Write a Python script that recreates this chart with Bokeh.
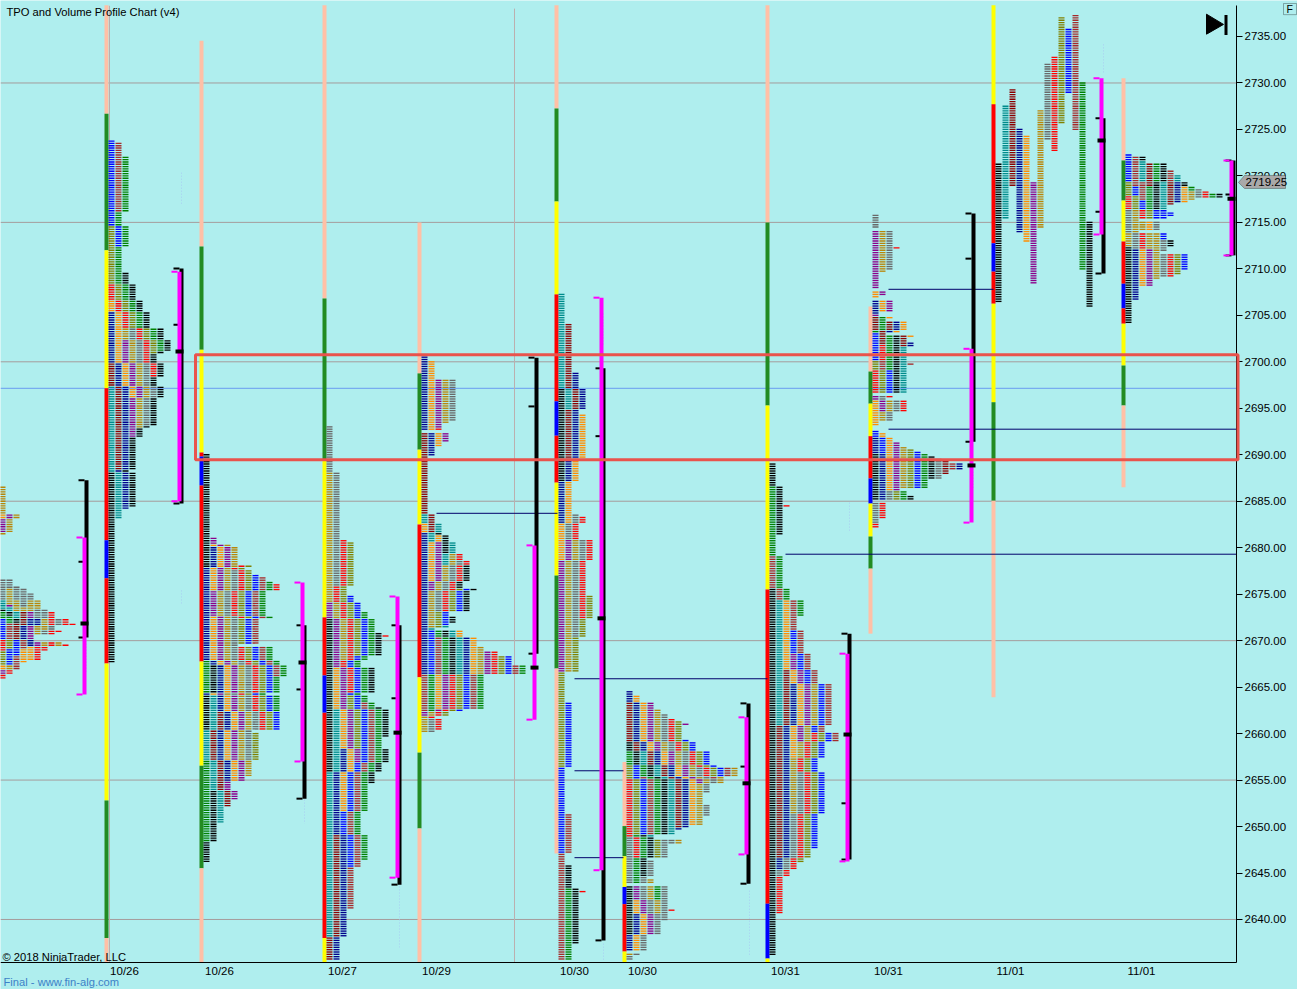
from bokeh.plotting import figure
from bokeh.models import (Range1d, FixedTicker, Label, BoxAnnotation, PolyAnnotation,
                          ColumnDataSource, NumeralTickFormatter)
from bokeh.embed import file_html
from bokeh.resources import INLINE

# ---- period colours (letter colours of the TPO chart)
palette = ["#000000", "#008B8B", "#8B0000", "#00008B", "#FF8C00", "#8B008B", "#B8860B",
           "#696969", "#FF0000", "#808000", "#0000FF", "#A52A2A", "#008000"]
K, T, M, N, O, U, D, A, R, L, B, W, G = range(13)

# ---- each session: periods in time order as (colour, high, low)
session0 = [(D,2686.6,2683.6),(O,2683.6,2682.95),(U,2682.95,2681.5),(D,2681.5,2681.2),(U,2683.6,2682.95),(D,2682.95,2681.5),(D,2683.6,2682.95),
 (A,2676.6,2674.15),(T,2674.15,2673.25),(K,2673.25,2672.9),(G,2672.9,2672.35),(B,2672.35,2670),(R,2670,2668.75),(L,2668.75,2667.3),(O,2667.3,2666.8),(U,2666.8,2666.35),(R,2666.35,2665.7),
 (A,2676.4,2675.4),(D,2675.4,2673.8),(U,2673.8,2673.45),(T,2673.45,2672.9),(K,2672.9,2672.5),(G,2672.5,2671.8),(W,2671.8,2670),(L,2670,2669.1),(B,2669.1,2667.3),(D,2667.3,2666.8),(R,2666.8,2666.25),
 (A,2675.8,2674.3),(D,2674.3,2672.9),(T,2672.9,2672.15),(K,2672.15,2671.65),(M,2671.65,2670),(B,2670,2668.2),(W,2668.2,2666.8),
 (A,2675.4,2673.6),(D,2673.6,2672.9),(M,2672.9,2671.45),(N,2671.45,2670),(W,2670,2669.1),(O,2669.1,2667.45),
 (A,2675.05,2674.3),(D,2674.3,2672.9),(U,2672.9,2672.35),(N,2672.35,2671.45),(U,2671.45,2670),(N,2670,2669.3),(O,2669.3,2667.7),
 (D,2674.3,2673.35),(A,2673.3,2672.35),(N,2672.35,2671.45),(D,2671.45,2670.4),(U,2669.85,2669.3),(R,2669.3,2667.7),
 (A,2673.3,2672.35),(D,2672.35,2671.1),(A,2671.1,2670.4),(D,2669.85,2669.3),(R,2669.3,2668.65),
 (R,2672.9,2671.45),(A,2671.45,2671.1),(R,2671.1,2670.4),(R,2669.85,2669.3),
 (A,2672.35,2671.45),(R,2671.1,2670.85),(D,2669.85,2669.3),
 (R,2672.35,2671.45),(R,2669.5,2669.5),(R,2671.75,2671.75)]
session1 = [(K,2688,2667.5),(T,2697.25,2683),(M,2699.75,2688.25),(N,2705.25,2684),(O,2706.5,2696),
 (U,2702.25,2691.75),(D,2703.5,2692.75),(A,2703.5,2693),(R,2708.25,2698.25),(L,2714.5,2700.75),
 (B,2723.75,2712.25),(W,2723.5,2716),(G,2722,2701),(K,2709.5,2684.25)]
session2 = [(K,2690.1,2677.65),(G,2656.9,2648.3),(K,2653.75,2646),(G,2667.75,2664.25),(K,2664.1,2660.15),
 (K,2667.25,2664.25),(T,2664.1,2650.25),(M,2662.25,2651.9),(N,2680,2654.75),(O,2680.35,2675.2),
 (O,2672.5,2654.75),(U,2680.9,2652.8),(D,2680.15,2655.3),(A,2677.4,2657),(L,2660,2657.1),
 (R,2677.9,2672.35),(L,2677.9,2669.5),(B,2677.1,2669.5),(W,2676.85,2669.5),(G,2676.35,2672.35),(R,2676.1,2675.2),
 (R,2669.25,2660.15),(L,2669.25,2660.15),(B,2669.25,2660.15),(W,2669.25,2665.9),(G,2669.25,2662.25)]
session3 = [(K,2672.35,2655.7),(T,2662.45,2637.95),(M,2649,2635.5),(N,2658.15,2635.5),(O,2666.95,2651.4),
 (U,2674.05,2656.85),(D,2688.05,2667.85),(A,2692.9,2675.75),(R,2680.8,2664.15),(L,2680.6,2668.25),
 (L,2663.95,2658.15),(B,2674.8,2645.6),(W,2663.2,2640.95),(G,2672.95,2646.35),(K,2670.85,2668.25),
 (K,2666.95,2664.15),(K,2662.85,2659.45),(K,2658.15,2654.6),(R,2670.5,2670.5)]
session4 = [(N,2700.55,2692.45),(T,2683.5,2682.4),(O,2682.4,2681.5),(N,2681.5,2666.25),(M,2692.35,2681.5),
 (N,2692.35,2689.75),(O,2700.1,2692.6),(O,2692.35,2690.8),(T,2682.4,2680.6),(O,2681.3,2676.3),
 (U,2698,2692.8),(U,2692.35,2691.35),(U,2680.6,2675.2),(K,2681.5,2679.15),(T,2680.6,2678.05),
 (D,2697.9,2693.15),(D,2679.15,2671.25),(A,2697.9,2693.5),(A,2678.6,2673.05),(R,2692.8,2692.8),
 (R,2679.15,2672.9),(L,2675.4,2671.25),(B,2675.4,2671.6),(K,2678.05,2673.05),(K,2672.5,2671.8),
 (B,2670.9,2666.25),(W,2670.2,2662.3),(G,2671.1,2662.15),(K,2671.1,2666.25),(T,2671.6,2666.25),
 (N,2670.2,2666.25),(O,2671.1,2662.5),(D,2669.3,2666.25),(U,2668.75,2661.75),(D,2662.15,2660),
 (A,2661.4,2660),(R,2668.75,2660.35),(L,2668.2,2661.75),(B,2668.2,2662.3),(W,2667.3,2662.5),(G,2667.3,2662.5)]
session5 = [(K,2697.1,2686.95),(T,2707.2,2694.65),(M,2704.1,2689.5),(N,2698.85,2682.5),(O,2694.35,2678.55),
 (U,2680.65,2666.4),(D,2680.65,2666.4),(A,2683.55,2670.35),(R,2683.3,2672.25),(L,2674.8,2656.15),
 (B,2663.15,2647),(W,2651.15,2635.6),(G,2643.3,2635.6),(K,2645.85,2637.2),(R,2643.05,2643.05)]
session6 = [(A,2648.65,2643.75),(R,2654.95,2646.5),(L,2656.6,2648.9),(B,2656.6,2648.9),(W,2655.2,2648.9),
 (G,2658,2643.75),(K,2658.95,2644.45),(T,2658,2648.65),(M,2663.15,2649.85),(N,2664.4,2649.45),
 (O,2664.1,2650.05),(U,2663.15,2654.5),(D,2662.55,2650.05),(A,2662.05,2656.6),(A,2656.35,2653.55),
 (A,2652.15,2651),(R,2661.6,2655.2),(L,2661.35,2655.2),(U,2661,2661),(B,2659.15,2655.2),
 (W,2656.35,2654.95),(D,2656.35,2654.5),(L,2648.5,2646.5),(A,2648.5,2646.5),(A,2648.5,2648),(D,2648.5,2648),
 (A,2646.35,2643.75),(D,2644.35,2643.75),(K,2643.4,2638.15),(N,2640.5,2636.5),(O,2641.9,2636.5),
 (U,2643.4,2638.15),(A,2643.4,2636.5),(D,2643.4,2640.6),(G,2643.4,2641.9),(A,2643.4,2639.8),(R,2641,2641),
 (D,2636.35,2636.05),(A,2636.35,2635.45)]
session7 = [(K,2675.4,2635.9),(T,2674.3,2660.7),(M,2666.8,2646.55),(N,2665.15,2645.3),(O,2674.3,2657.3),
 (U,2668.4,2659.1),(D,2665.15,2651.35),(A,2655.85,2644.4),(R,2660,2640.6),(L,2660,2646.05),
 (B,2671.1,2647.6),(W,2679.05,2659.1),(G,2686.6,2672.55),(K,2689.1,2681.2),(R,2684.55,2684.55)]
session8 = [(A,2715.85,2714.3),(U,2714.1,2707.65),(D,2714.1,2709.45),(A,2714.1,2709.65),(R,2712.25,2712.25),
 (O,2707.55,2706.75),(U,2707.55,2706.95),(N,2706.6,2705),(O,2706.6,2705.35),(U,2706.6,2705.35),(U,2705.05,2705.05),
 (M,2704.8,2703.2),(G,2704.8,2703),(O,2704.8,2704.45),(M,2704.25,2703),(N,2704.25,2703),(O,2704.25,2703),
 (B,2703,2700),(L,2700,2699.05),(R,2699.05,2696.55),(M,2703,2701.75),(R,2701.75,2700),(W,2700,2699.05),(L,2699.05,2696.55),
 (G,2702.85,2699.05),(B,2699.05,2696.55),(K,2702.85,2696.55),(M,2702.85,2701.4),(T,2701.4,2696.55),
 (O,2702.85,2702.85),(N,2702.1,2701.4),(W,2699.75,2699.75),
 (U,2696.35,2695.85),(O,2695.85,2693),(A,2696.35,2695.85),(U,2695.85,2694.4),(R,2696.35,2696.35),
 (D,2695.85,2693.5),(A,2695.85,2693.5),(R,2695.85,2694.4),
 (B,2692.45,2691.7),(N,2691.7,2690.1),(K,2690.1,2685.1),(A,2684.7,2682.4),(R,2682.4,2682),
 (O,2692.25,2691.7),(B,2691.7,2690.1),(N,2690.1,2685.1),(R,2684.7,2682.9),
 (O,2691.7,2686),(A,2686,2685.1),(U,2691.3,2686),(L,2686,2685.1),(D,2690.8,2686.35),(G,2686,2685.1),
 (L,2690.45,2686.35),(K,2685.6,2685.1),(B,2690.3,2686.35),(G,2690.1,2686.15),(K,2689.75,2687.25),
 (A,2689.5,2687.25),(M,2689.3,2687.75),(W,2689.05,2688.15),(N,2689.05,2688.15)]
session9 = [(K,2721.3,2706.25),(T,2727.6,2715.2),(M,2729.3,2718.8),(N,2724.9,2713.7),(O,2724.15,2712.7),
 (U,2719.3,2708.2),(D,2727,2714.25),(A,2732.1,2723.7),(R,2732.65,2722.4),(L,2737.05,2725.45),
 (B,2735.85,2728.65),(W,2737.35,2724.65),(G,2730.05,2709.7),(K,2715.1,2705.8)]
session10 = [(B,2722.3,2719.15),(L,2719.15,2717.7),(R,2717.7,2716.3),(A,2716.3,2713.8),(D,2713.8,2712.15),(K,2712.15,2704.1),
 (W,2722.1,2718.8),(B,2718.8,2717.7),(L,2717.7,2716.3),(D,2716.3,2713.8),(A,2713.8,2712),(N,2712,2706.6),
 (K,2722.1,2721.6),(T,2721.6,2719.3),(W,2719.3,2717.2),(B,2717.2,2716.3),(R,2716.3,2715.2),(D,2715,2713.95),(R,2713.8,2712),(O,2712,2708),
 (M,2721.3,2718.8),(G,2718.8,2716.3),(L,2716.3,2715.2),(O,2715,2713.95),(D,2713.8,2712),(U,2712,2708),
 (G,2721.3,2719.3),(K,2719.3,2716.3),(B,2716.3,2715.2),(A,2715,2713.95),(D,2713.8,2708.75),
 (K,2721.3,2719.3),(T,2719.3,2716.3),(B,2716.1,2715.2),(B,2713.8,2712.9),(A,2711.6,2709.1),
 (W,2720.6,2719.3),(M,2719.3,2716.65),(B,2716.2,2715.55),(A,2712.9,2711.8),(R,2711.6,2709.1),
 (T,2720.05,2719.3),(N,2719.3,2717),(K,2712.9,2712.3),(L,2711.6,2709.3),
 (K,2719.3,2718.8),(O,2718.8,2717),(B,2711.6,2709.65),
 (G,2718.8,2718.25),(D,2718.25,2717.35),(A,2718.6,2717.45),(R,2718.25,2717.45),(G,2718.05,2717.45),(K,2718.05,2717.45)]
sessions = [session0, session1, session2, session3, session4, session5,
            session6, session7, session8, session9, session10]
session_slot = [-5, 104, 199, 322, 417, 554, 622, 765, 868, 991, 1121]
split_profile = [False]*9 + [True, False]

# ---- range strips: price boundaries and the colours between them
strip_colors = {"P": "#FFC0A6", "G": "#228B22", "Y": "#FFFF00", "R": "#FF0000", "B": "#0000FF"}
strip_levels = [[],
 [2738.35,2726.7,2712,2697.15,2680.8,2676.7,2667.55,2652.8,2638,2635.4],
 [2734.55,2712.4,2701.3,2690.25,2689.8,2686.7,2667.75,2656.55,2645.5,2635.4],
 [2738.35,2706.8,2689.4,2672.5,2666.25,2662.25,2638,2635.4],
 [2715,2698.75,2690.55,2682.5,2666.05,2657.95,2649.8,2635.4],
 [2738.35,2727.25,2717.25,2707.25,2695.75,2692.05,2687,2677,2667,2647.1],
 [2656.95,2650.05,2646.8,2643.5,2641.65,2636.55,2635.4],
 [2738.35,2715,2695.3,2675.5,2641.7,2635.8,2635.4],
 [2705.95,2698.95,2695.5,2692,2687.45,2684.75,2681.2,2677.75,2670.75],
 [2738.35,2727.7,2712.75,2709.7,2706.25,2695.65,2685.05,2663.9],
 [2730.5,2721.65,2717.35,2712.95,2708.4,2705.75,2704.1,2699.6,2695.3,2686.5]]
strip_codes = ["", "PGYRBRYGP", "PGYRBRYGP", "PGYRBRY", "PGYRYGP", "PGYRBRYGP", "PGYBRY",
               "PGYRBY", "PGYRBYGP", "YRBRYGP", "PGYRBRYGP"]

# ---- brackets at the right of each profile
bracket_slot = [84, 179, 302, 397, 534, 601, 746, 847, 971, 1101, 1231]
black_top = [2687.25,2710.05,2671.65,2671.65,2700.45,2699.3,2663.25,2670.75,2715.95,2726.2,2721.65]
black_bot = [2670.35,2684.75,2653,2643.75,2668.6,2637.75,2643.85,2646.45,2691.4,2709.5,2711.45]
magenta_top = [2681.1,2709.7,2676.25,2674.75,2680.25,2706.9,2661.75,2668.6,2701.4,2730.5,2721.65]
magenta_bot = [2664.2,2685,2657,2644.5,2661.5,2645.3,2647,2646.25,2682.7,2713.7,2711.45]
mid_tick = [2678.5,2704,2664.75,2663.8,2695.2,2692,2656.45,2652.5,2711.1,2716.15,2718]
poc_price = [2671.85,2701.1,2667.65,2660.1,2667.1,2672.4,2654.65,2659.9,2688.85,2723.8,2717.55]

# ---- faint volume ticks beside the brackets
faint_slot = [86, 181, 181, 304, 399, 603, 603, 749, 849, 973, 1103]
faint_high = [2670, 2675.4, 2720.35, 2652.9, 2643.55, 2705.2, 2637.4, 2643.1, 2684.85, 2688.5, 2734.15]
faint_low = [2666.45, 2673.8, 2717, 2650.3, 2637, 2701.85, 2635.5, 2636.1, 2681.75, 2686.35, 2731]

# ---- horizontal reference lines
grid_prices = [2730, 2715, 2700, 2685, 2670, 2655, 2640]
blue_price = 2697.15
naked_price = [2683.7, 2665.9, 2656, 2646.65, 2679.3, 2707.8, 2692.75]
naked_from = [436, 574, 574, 574, 785, 888, 888]
naked_to = [557, 767, 623, 623, 1236, 993, 1236]
day_break_slots = [109, 514]

date_slots = [124, 219, 342, 436, 574, 642, 785, 888, 1010, 1141]
date_labels = ["10/26", "10/26", "10/27", "10/29", "10/30", "10/30", "10/31", "10/31", "11/01", "11/01"]

BG = "#AFEEEE"
FONT = "Liberation Sans"
AXIS_X = 1236
AXIS_Y = 2635.374
AXIS_TOP = 2738.335

p = figure(width=1297, height=989, output_backend="svg", toolbar_location=None,
           x_range=Range1d(0, 1297), y_range=Range1d(2632.467, 2738.873),
           y_axis_location="right", min_border_left=0, min_border_right=0,
           min_border_top=0, min_border_bottom=0,
           background_fill_color=BG, border_fill_color=BG, outline_line_color=None)
p.grid.visible = False

ax = p.yaxis[0]
ax.fixed_location = AXIS_X
ax.bounds = (AXIS_Y, AXIS_TOP)
ax.ticker = FixedTicker(ticks=[2640 + 5*i for i in range(20)])
ax.formatter = NumeralTickFormatter(format="0.00")
ax.major_tick_in = 0
ax.major_tick_out = 6
ax.minor_tick_line_color = None
ax.major_label_standoff = 2
ax.major_label_text_font = FONT
ax.major_label_text_font_size = "11.5px"
ax.major_label_text_color = "#000000"
ax.axis_line_color = "#000000"
ax.major_tick_line_color = "#000000"

bx = p.xaxis[0]
bx.fixed_location = AXIS_Y
bx.bounds = (0, AXIS_X)
bx.ticker = FixedTicker(ticks=date_slots)
# two dates can share a label, so labels are keyed by the tick position
bx.major_label_overrides = {s: t for s, t in zip(date_slots, date_labels)}
bx.major_tick_in = 0
bx.major_tick_out = 0
bx.minor_tick_line_color = None
bx.major_label_standoff = 3
bx.major_label_text_font = FONT
bx.major_label_text_font_size = "11.5px"
bx.major_label_text_color = "#000000"
bx.axis_line_color = "#000000"

# reference lines
p.segment(x0=[0]*len(grid_prices), x1=[AXIS_X]*len(grid_prices), y0=grid_prices, y1=grid_prices,
          line_color="#A59C9C", line_width=1)
p.segment(x0=[0], x1=[AXIS_X], y0=[blue_price], y1=[blue_price], line_color="#6A9BF0", line_width=1)
p.segment(x0=day_break_slots, x1=day_break_slots, y0=[AXIS_Y, AXIS_Y], y1=[2738.3, 2738.0],
          line_color="#BBAFAF", line_width=1)

# strips
sl, sr, st, sb, sc = [], [], [], [], []
for x, lv, codes in zip(session_slot, strip_levels, strip_codes):
    for i, c in enumerate(codes):
        sl.append(x); sr.append(x + 4); st.append(lv[i]); sb.append(lv[i + 1]); sc.append(strip_colors[c])
p.quad(left=sl, right=sr, top=st, bottom=sb, fill_color=sc, line_color=None)

# TPO rows: a row is one quarter point, its column the number of earlier periods at that price
x0, x1, yy, cc = [], [], [], []
for x, periods, split in zip(session_slot, sessions, split_profile):
    used = {}
    for idx, (color, hi, lo) in enumerate(periods):
        h, l = round(hi*4), round(lo*4)
        rows = range(h, l, -1) if h > l else [h]
        for r in rows:
            col = idx if split else used.get(r, 0)
            used[r] = used.get(r, 0) + 1
            left = x + 4 + 7*col
            x0.append(left); x1.append(left + 6); yy.append(r/4); cc.append(palette[color])
p.segment(x0="x0", x1="x1", y0="y", y1="y", line_color="c", line_width=1.35,
          source=ColumnDataSource(dict(x0=x0, x1=x1, y=yy, c=cc)))

# untouched-POC lines
p.segment(x0=naked_from, x1=naked_to, y0=naked_price, y1=naked_price, line_color="#00006A", line_width=1)

# faint ticks
p.segment(x0=faint_slot, x1=faint_slot, y0=faint_high, y1=faint_low, line_color="#A8CDF2",
          line_width=1, line_dash="1 2")

# brackets
bs = bracket_slot
black_c = [x + 2 for x in bs]
p.segment(x0=black_c, x1=black_c, y0=black_top, y1=black_bot, line_color="#000000", line_width=4)
for ys in (black_top, black_bot, mid_tick):
    p.segment(x0=[x - 6 for x in bs], x1=bs, y0=ys, y1=ys, line_color="#000000", line_width=2)
mag_l = [x - 2 for x in bs]
mag_c = [x for x in bs]
p.segment(x0=mag_c, x1=mag_c, y0=magenta_top, y1=magenta_bot, line_color="#FF00FF", line_width=4)
for ys in (magenta_top, magenta_bot):
    p.segment(x0=[x - 6 for x in mag_l], x1=mag_l, y0=ys, y1=ys, line_color="#FF00FF", line_width=2)
p.segment(x0=[x - 4 for x in bs], x1=[x + 4 for x in bs], y0=poc_price, y1=poc_price,
          line_color="#000000", line_width=4)

# highlighted zone
p.add_layout(BoxAnnotation(left=195, right=1237.5, top=2700.75, bottom=2689.45, fill_alpha=0,
                           line_color="#E9534C", line_width=3, line_alpha=1))

# go-to-end icon
p.patch([1206, 1206, 1223], [2737.4, 2735.25, 2736.3], fill_color="#000000", line_color="#000000")
p.quad(left=[1224], right=[1227], top=[2737.3], bottom=[2735.15], fill_color="#000000", line_color=None)

def add_text(text, x, y, size="11.2px", color="#000000"):
    p.add_layout(Label(x=x, y=y, text=text, text_font=FONT, text_font_size=size, text_color=color,
                       text_baseline="middle", text_align="left"))

add_text("TPO and Volume Profile Chart (v4)", 6, 2737.6)
add_text("\u00a9 2018 NinjaTrader, LLC", 2, 2636.0)
add_text("Final - www.fin-alg.com", 3, 2633.3, color="#3C82C8")

# last price flag
p.add_layout(PolyAnnotation(xs=[1238, 1244, 1285, 1285, 1244],
                            ys=[2719.3, 2720.05, 2720.05, 2718.65, 2718.65],
                            fill_color="#A9A9A9", fill_alpha=1, line_color="#000000", line_width=1))
add_text("2719.25", 1245, 2719.3, size="11.5px")
# F button
p.add_layout(PolyAnnotation(xs=[1283, 1296, 1296, 1283], ys=[2738.55, 2738.55, 2737.35, 2737.35],
                            fill_alpha=0, line_color="#000000", line_width=1))
add_text("F", 1286, 2737.95, size="10.5px")

open("out.html", "w").write(file_html(p, INLINE))
